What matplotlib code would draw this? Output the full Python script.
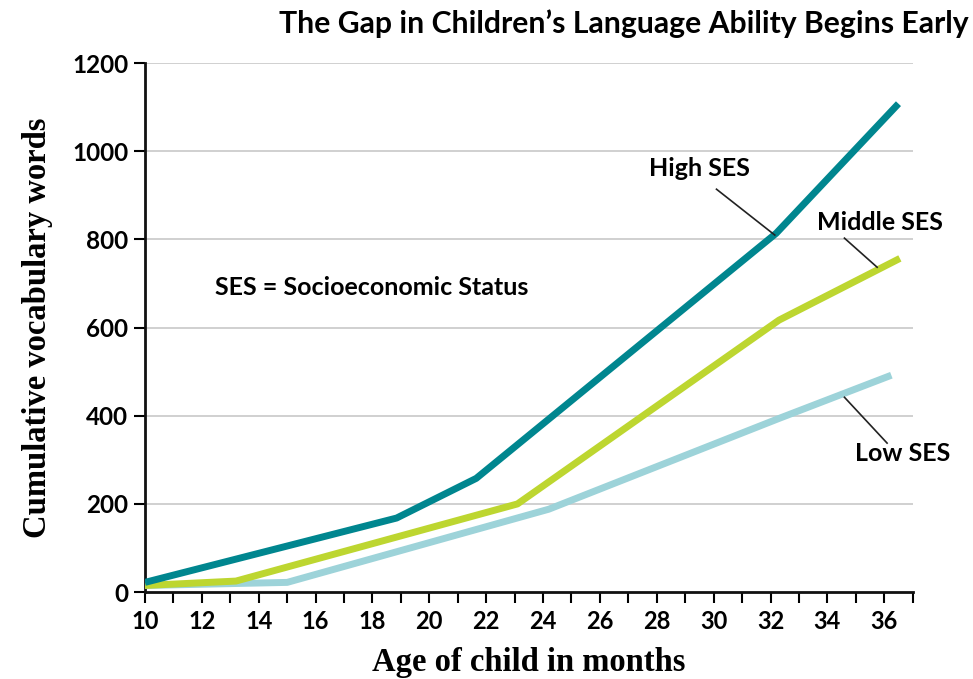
import matplotlib.pyplot as plt
import matplotlib as mpl

mpl.rcParams['font.family'] = ['Lato', 'DejaVu Sans']

# age (months) and cumulative vocabulary per SES group
high_x = [10, 18.85, 21.65, 32.2, 36.5]
high_y = [22, 168, 258, 814, 1108]
mid_x = [10, 13.2, 23.1, 32.3, 36.55]
mid_y = [15, 25, 200, 617, 757]
low_x = [10, 15.0, 24.2, 32.3, 36.25]
low_y = [15, 22, 188, 394, 492]

xticks = list(range(10, 38, 2))
yticks = [0, 200, 400, 600, 800, 1000, 1200]

c_high = '#00868f'
c_mid = '#bdd630'
c_low = '#9dd3d9'

fig = plt.figure(figsize=(9.73, 6.79), dpi=100)
ax = fig.add_axes([0.149, 0.128, 0.789, 0.779])

for y in yticks[1:]:
    ax.axhline(y, color='#c8c8c8', lw=1.2, zorder=0)

ax.plot(low_x, low_y, color=c_low, lw=5, solid_capstyle='butt', zorder=3)
ax.plot(mid_x, mid_y, color=c_mid, lw=5, solid_capstyle='butt', zorder=4)
ax.plot(high_x, high_y, color=c_high, lw=5, solid_capstyle='butt', zorder=5)

ax.set_xlim(10, 37)
ax.set_ylim(0, 1200)
ax.set_xticks(range(10, 38))
ax.set_xticklabels([str(t) if t in xticks else '' for t in range(10, 38)])
ax.set_yticks(yticks)
ax.set_yticklabels([str(t) for t in yticks])

for s in ['top', 'right']:
    ax.spines[s].set_visible(False)
for s in ['left', 'bottom']:
    ax.spines[s].set_linewidth(2)
    ax.spines[s].set_color('#111111')

ax.tick_params(axis='x', length=8, width=1.5, labelsize=17, pad=5)
ax.tick_params(axis='y', length=8, width=1.5, labelsize=17.5, pad=4)
for lab in ax.get_xticklabels() + ax.get_yticklabels():
    lab.set_fontweight('bold')

ax.set_xlabel('Age of child in months', family='Liberation Serif',
              fontweight='bold', fontsize=23.5, labelpad=10)
ax.set_ylabel('Cumulative vocabulary words', family='Liberation Serif',
              fontweight='bold', fontsize=23.5, labelpad=14)

fig.text(0.995, 0.965, 'The Gap in Children\u2019s Language Ability Begins Early',
         ha='right', va='center', fontsize=21.7, fontweight='bold')

ax.text(12.45, 690, 'SES = Socioeconomic Status', fontsize=18,
        fontweight='bold', va='center', ha='left')

# callouts
ax.text(29.5, 962, 'High SES', fontsize=18, fontweight='bold', ha='center', va='center')
ax.plot([30.1, 32.15], [914, 810], color='#222222', lw=1.2, zorder=6)
ax.text(35.85, 839, 'Middle SES', fontsize=18, fontweight='bold', ha='center', va='center')
ax.plot([34.6, 35.75], [803, 737], color='#222222', lw=1.2, zorder=6)
ax.text(36.65, 315, 'Low SES', fontsize=18, fontweight='bold', ha='center', va='center')
ax.plot([34.6, 36.1], [442, 338], color='#222222', lw=1.2, zorder=6)

fig.savefig('out.png', dpi=100)
